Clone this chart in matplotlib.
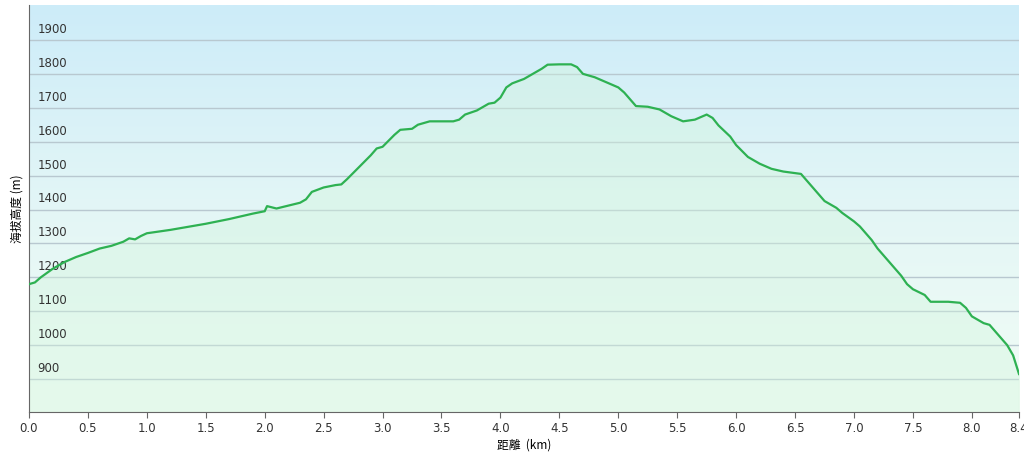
import numpy as np
import matplotlib
matplotlib.use("Agg")
import matplotlib.pyplot as plt
from matplotlib.colors import LinearSegmentedColormap

plt.rcParams['font.family'] = ['Noto Sans CJK SC', 'DejaVu Sans']

dist_km = [0, 0.05, 0.1, 0.2, 0.3, 0.4, 0.5, 0.6, 0.7, 0.8, 0.85, 0.9, 0.95, 1.0, 1.2, 1.5, 1.7, 1.9, 2.0, 2.02, 2.1, 2.3, 2.35, 2.4, 2.5, 2.6, 2.65, 2.7, 2.8, 2.9, 2.95, 3.0, 3.1, 3.15, 3.25, 3.3, 3.4, 3.6, 3.65, 3.7, 3.8, 3.9, 3.95, 4.0, 4.05, 4.1, 4.2, 4.3, 4.35, 4.4, 4.5, 4.6, 4.65, 4.7, 4.8, 4.9, 5.0, 5.05, 5.1, 5.15, 5.25, 5.35, 5.45, 5.55, 5.65, 5.75, 5.8, 5.85, 5.95, 6.0, 6.1, 6.2, 6.3, 6.4, 6.55, 6.6, 6.7, 6.75, 6.85, 6.9, 7.0, 7.05, 7.15, 7.2, 7.3, 7.4, 7.45, 7.5, 7.6, 7.65, 7.7, 7.8, 7.9, 7.95, 8.0, 8.1, 8.15, 8.2, 8.3, 8.35, 8.4]
elev_m = [1180, 1185, 1200, 1225, 1245, 1260, 1272, 1285, 1293, 1305, 1315, 1312, 1322, 1330, 1340, 1358, 1372, 1388, 1395, 1410, 1403, 1420, 1430, 1452, 1465, 1472, 1474, 1490, 1525, 1560, 1580, 1585, 1620, 1635, 1638, 1650, 1660, 1660, 1665, 1680, 1692, 1712, 1715, 1730, 1760, 1772, 1785, 1805, 1815, 1827, 1828, 1828, 1820, 1800, 1790, 1775, 1760, 1745, 1725, 1705, 1703, 1695, 1675, 1660, 1665, 1680, 1670, 1648, 1615, 1590, 1555, 1535, 1520, 1512, 1505, 1485, 1445, 1425, 1405, 1390, 1365, 1350, 1310, 1285, 1245, 1205, 1180, 1165, 1148, 1128, 1128, 1128, 1125, 1110, 1085, 1065, 1060, 1040, 1000, 970, 915]
x_ticks = [0.0, 0.5, 1.0, 1.5, 2.0, 2.5, 3.0, 3.5, 4.0, 4.5, 5.0, 5.5, 6.0, 6.5, 7.0, 7.5, 8.0, 8.4]
y_ticks = [900, 1000, 1100, 1200, 1300, 1400, 1500, 1600, 1700, 1800, 1900]

fig = plt.figure(figsize=(10.24, 4.65), dpi=100)
ax = fig.add_axes([29/1024, 1-412/465, 990/1024, 407/465])
ymin, ymax = 803, 2003
ax.set_xlim(0, 8.4)
ax.set_ylim(ymin, ymax)

bg = LinearSegmentedColormap.from_list('bg', ['#f2fdf5', '#e3f6f6', '#cdecf9'])
ax.imshow(np.linspace(0, 1, 256).reshape(-1, 1), cmap=bg, aspect='auto',
          extent=[0, 8.4, ymin, ymax], origin='lower', zorder=0)
for y in y_ticks:
    ax.axhline(y, color='#b8c8d0', lw=1, zorder=1)
    ax.text(0.07, y + 12, str(y), fontsize=8.5, color='#333333', va='bottom', ha='left', zorder=3,
            family='DejaVu Sans')
ax.fill_between(dist_km, elev_m, ymin, color='#d2f5dc', alpha=0.4, zorder=2)
ax.plot(dist_km, elev_m, color='#2eb152', lw=1.6, zorder=4)

ax.set_yticks([])
ax.set_xticks(x_ticks)
ax.set_xticklabels([f"{v:.1f}" for v in x_ticks], fontsize=8.5, color='#333333', family='DejaVu Sans')
ax.tick_params(axis='x', length=4, color='#666666')
ax.set_xlabel('距離  (km)', fontsize=8.5, labelpad=2)
ax.set_ylabel('海拔高度 (m)', fontsize=8.5, labelpad=4)
for s in ['top', 'right']:
    ax.spines[s].set_visible(False)
for s in ['left', 'bottom']:
    ax.spines[s].set_color('#666666')
fig.savefig('out.png', dpi=100)
